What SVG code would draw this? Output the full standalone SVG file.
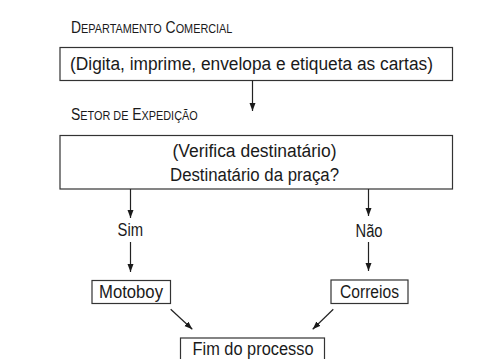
<svg xmlns="http://www.w3.org/2000/svg" width="493" height="359" viewBox="0 0 493 359">
<style>
  text { font-family: "Liberation Sans", Arial, sans-serif; fill: #1a1a1a; }
  .body { font-size: 18px; }
  .head { font-size: 16px; }
  .sc { font-size: 12.5px; }
  .box { fill: #fff; stroke: #333; stroke-width: 1.2; }
  .conn { stroke: #222; stroke-width: 1.2; fill: none; marker-end: url(#arr); }
</style>
<defs>
  <marker id="arr" markerUnits="userSpaceOnUse" markerWidth="9" markerHeight="7" refX="8" refY="3" orient="auto">
    <path d="M0,0 L8,3 L0,6 z" fill="#1a1a1a"/>
  </marker>
</defs>
<rect width="493" height="359" fill="#fff"/>

<g id="heading-dept">
  <text class="head" transform="translate(71,33) scale(0.87,1)">D<tspan class="sc">EPARTAMENTO</tspan> C<tspan class="sc">OMERCIAL</tspan></text>
</g>

<g id="node-comercial">
  <rect class="box" x="60" y="47.5" width="392.5" height="33"/>
  <text class="body" x="70" y="70" textLength="363" lengthAdjust="spacingAndGlyphs">(Digita, imprime, envelopa e etiqueta as cartas)</text>
</g>

<g id="heading-setor">
  <text class="head" transform="translate(71,120) scale(0.87,1)">S<tspan class="sc">ETOR DE</tspan> E<tspan class="sc">XPEDIÇÃO</tspan></text>
</g>

<g id="node-verifica">
  <rect class="box" x="60" y="135.5" width="392.5" height="53.5"/>
  <text class="body" x="172.5" y="157" textLength="164" lengthAdjust="spacingAndGlyphs">(Verifica destinatário)</text>
  <text class="body" x="170" y="181" textLength="169" lengthAdjust="spacingAndGlyphs">Destinatário da praça?</text>
</g>

<g id="label-sim">
  <text class="body" x="117.5" y="236" textLength="25.5" lengthAdjust="spacingAndGlyphs">Sim</text>
</g>

<g id="label-nao">
  <text class="body" x="355.5" y="236.5" textLength="27" lengthAdjust="spacingAndGlyphs">Não</text>
</g>

<g id="node-motoboy">
  <rect class="box" x="92" y="280.5" width="78.5" height="23"/>
  <text class="body" x="99" y="298" textLength="64" lengthAdjust="spacingAndGlyphs">Motoboy</text>
</g>

<g id="node-correios">
  <rect class="box" x="331" y="280" width="77" height="23.5"/>
  <text class="body" x="340" y="298" textLength="59" lengthAdjust="spacingAndGlyphs">Correios</text>
</g>

<g id="node-fim">
  <rect class="box" x="180.5" y="338" width="144" height="40"/>
  <text class="body" x="192.5" y="355" textLength="121" lengthAdjust="spacingAndGlyphs">Fim do processo</text>
</g>

<g id="connectors">
  <line class="conn" x1="252.5" y1="80.5" x2="252.5" y2="111"/>
  <line class="conn" x1="130.5" y1="189" x2="130.5" y2="218"/>
  <line class="conn" x1="368.5" y1="189" x2="368.5" y2="216"/>
  <line class="conn" x1="130.5" y1="242" x2="130.5" y2="272"/>
  <line class="conn" x1="368.5" y1="242" x2="368.5" y2="271"/>
  <line class="conn" x1="170.7" y1="309.3" x2="192.3" y2="329.3"/>
  <line class="conn" x1="333.3" y1="309.3" x2="312.7" y2="329.3"/>
</g>
</svg>
